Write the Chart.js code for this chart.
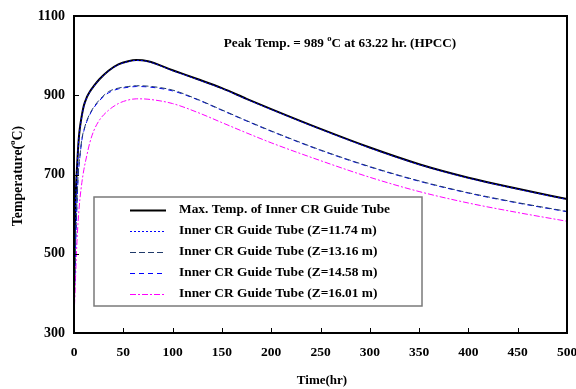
<!DOCTYPE html>
<html>
<head>
<meta charset="utf-8">
<script src="https://cdn.jsdelivr.net/npm/chart.js@4/dist/chart.umd.min.js"></script>
<style>
  html, body { margin: 0; padding: 0; background: #fff; }
  #wrap { width: 576px; height: 389px; }
</style>
</head>
<body>
<div id="wrap"><canvas id="myChart" width="576" height="389"></canvas></div>
<script>
// time points (hr)
var times = [0, 1, 2, 3, 4, 5, 6, 8, 10, 13, 16, 20, 26, 35, 45, 55, 63.22, 75, 100, 125, 150, 175, 200, 250, 300, 350, 400, 450, 500];

// temperatures (C)
var maxTemp = [380, 580, 665, 715, 760, 795, 818, 850, 874, 895, 909, 923, 941, 962, 978, 986, 989, 986, 963, 941, 918, 891, 865, 815, 768, 726, 692, 664, 638];
var z1174   = [375, 575, 662, 712, 758, 793, 816, 848, 872, 894, 908, 922, 940, 961, 977, 985, 988, 985, 962, 940, 917, 890, 864, 814, 767, 725, 691, 663, 637];
var z1316   = [360, 470, 560, 630, 690, 725, 748, 790, 812, 836, 853, 870, 889, 909, 918, 922, 924, 923, 913, 890, 863, 836, 810, 762, 720, 684, 654, 629, 607];
var z1458   = [355, 460, 550, 622, 683, 720, 745, 787, 810, 834, 851, 868, 887, 906, 916, 920, 922, 921, 911, 889, 862, 835, 809, 761, 719, 683, 653, 628, 606];
var z1601   = [340, 400, 470, 530, 575, 610, 638, 680, 712, 748, 780, 810, 838, 862, 879, 888, 891, 890, 879, 857, 831, 805, 780, 735, 693, 657, 628, 604, 582];

var seriesNames = [
  'Max. Temp. of Inner CR Guide Tube',
  'Inner CR Guide Tube (Z=11.74 m)',
  'Inner CR Guide Tube (Z=13.16 m)',
  'Inner CR Guide Tube (Z=14.58 m)',
  'Inner CR Guide Tube (Z=16.01 m)'
];

var xTicks = [0, 50, 100, 150, 200, 250, 300, 350, 400, 450, 500];
var yTicks = [300, 500, 700, 900, 1100];

var FONT = '"Liberation Serif", "Times New Roman", serif';

function pts(vals) {
  return times.map(function (t, i) { return { x: t, y: vals[i] }; });
}

function richText(ctx, parts, x, y, size, align) {
  var w = 0;
  parts.forEach(function (p) {
    ctx.font = 'bold ' + (p[1] ? size * 0.65 : size) + 'px ' + FONT;
    w += ctx.measureText(p[0]).width;
  });
  var cx = align === 'center' ? x - w / 2 : x;
  ctx.textAlign = 'left';
  ctx.textBaseline = 'middle';
  parts.forEach(function (p) {
    var s = p[1] ? size * 0.65 : size;
    ctx.font = 'bold ' + s + 'px ' + FONT;
    ctx.fillText(p[0], cx, p[1] ? y - size * 0.38 : y);
    cx += ctx.measureText(p[0]).width;
  });
}

var decor = {
  id: 'decor',
  afterDatasetsDraw: function (chart) {
    var ctx = chart.ctx, a = chart.chartArea;
    var xs = chart.scales.x, ys = chart.scales.y;
    ctx.save();
    ctx.fillStyle = '#000';
    ctx.strokeStyle = '#000';

    // frame
    ctx.lineWidth = 2;
    ctx.strokeRect(a.left, a.top, a.right - a.left, a.bottom - a.top);

    // inside ticks
    ctx.lineWidth = 1;
    ctx.beginPath();
    xTicks.forEach(function (v) {
      var px = Math.round(xs.getPixelForValue(v)) + 0.5;
      ctx.moveTo(px, a.bottom);
      ctx.lineTo(px, a.bottom - 5);
    });
    yTicks.forEach(function (v) {
      var py = Math.round(ys.getPixelForValue(v)) + 0.5;
      ctx.moveTo(a.left, py);
      ctx.lineTo(a.left + 5, py);
    });
    ctx.stroke();

    // legend box
    var bx = 94, by = 197, bw = 328, bh = 109;
    ctx.fillStyle = '#fff';
    ctx.fillRect(bx, by, bw, bh);
    ctx.strokeStyle = '#7a7a7a';
    ctx.lineWidth = 1.5;
    ctx.strokeRect(bx, by, bw, bh);

    var rowY = [210, 231, 252, 273, 294];
    chart.data.datasets.forEach(function (ds, i) {
      var y = rowY[i];
      ctx.strokeStyle = ds.borderColor;
      ctx.lineWidth = ds.borderWidth;
      ctx.setLineDash(ds.borderDash || []);
      ctx.beginPath();
      ctx.moveTo(130, y + 0.5);
      ctx.lineTo(166, y + 0.5);
      ctx.stroke();
      ctx.setLineDash([]);
      ctx.fillStyle = '#000';
      richText(ctx, [[ds.label, false]], 179, y, 13.4, 'left');
    });

    // peak annotation
    ctx.fillStyle = '#000';
    richText(ctx, [['Peak Temp. = 989 ', false], ['o', true], ['C at 63.22 hr. (HPCC)', false]], 340, 44, 13.2, 'center');

    // axis titles
    richText(ctx, [['Time(hr)', false]], 322, 381, 13, 'center');
    ctx.translate(18, 176);
    ctx.rotate(-Math.PI / 2);
    richText(ctx, [['Temperature(', false], ['o', true], ['C)', false]], 0, 0, 13.8, 'center');
    ctx.restore();
  }
};

var ctx = document.getElementById('myChart').getContext('2d');
var myChart = new Chart(ctx, {
  type: 'line',
  data: {
    datasets: [
      { label: seriesNames[0], data: pts(maxTemp), borderColor: '#000000', borderWidth: 2, order: 3 },
      { label: seriesNames[1], data: pts(z1174), borderColor: '#0000ff', borderWidth: 1, borderDash: [2, 2], order: 1 },
      { label: seriesNames[2], data: pts(z1316), borderColor: '#1f3a6a', borderWidth: 1, borderDash: [6, 3], order: 2 },
      { label: seriesNames[3], data: pts(z1458), borderColor: '#0000ff', borderWidth: 1, borderDash: [5, 4], order: 2 },
      { label: seriesNames[4], data: pts(z1601), borderColor: '#ff00ff', borderWidth: 1, borderDash: [6, 2, 2, 2], order: 2 }
    ]
  },
  options: {
    responsive: false,
    animation: false,
    devicePixelRatio: 1,
    layout: { padding: { left: 0, right: 9, top: 16, bottom: 0 } },
    elements: {
      point: { radius: 0 },
      line: { cubicInterpolationMode: 'monotone', fill: false }
    },
    plugins: {
      legend: { display: false },
      tooltip: { enabled: false }
    },
    scales: {
      x: {
        type: 'linear',
        min: 0,
        max: 500,
        afterBuildTicks: function (s) { s.ticks = xTicks.map(function (v) { return { value: v }; }); },
        afterFit: function (s) { s.height = 56; s.paddingLeft = 0; s.paddingRight = 0; },
        ticks: {
          color: '#000', padding: 11, maxRotation: 0, autoSkip: false,
          font: { family: FONT, size: 13.5, weight: 'bold' },
          callback: function (v) { return String(v); }
        },
        grid: { display: false, drawTicks: false },
        border: { display: false }
      },
      y: {
        type: 'linear',
        min: 300,
        max: 1100,
        afterBuildTicks: function (s) { s.ticks = yTicks.map(function (v) { return { value: v }; }); },
        afterFit: function (s) { s.width = 74; s.paddingTop = 0; s.paddingBottom = 0; },
        ticks: {
          color: '#000', padding: 9,
          font: { family: FONT, size: 14, weight: 'bold' },
          callback: function (v) { return String(v); }
        },
        grid: { display: false, drawTicks: false },
        border: { display: false }
      }
    }
  },
  plugins: [decor]
});
</script>
</body>
</html>
